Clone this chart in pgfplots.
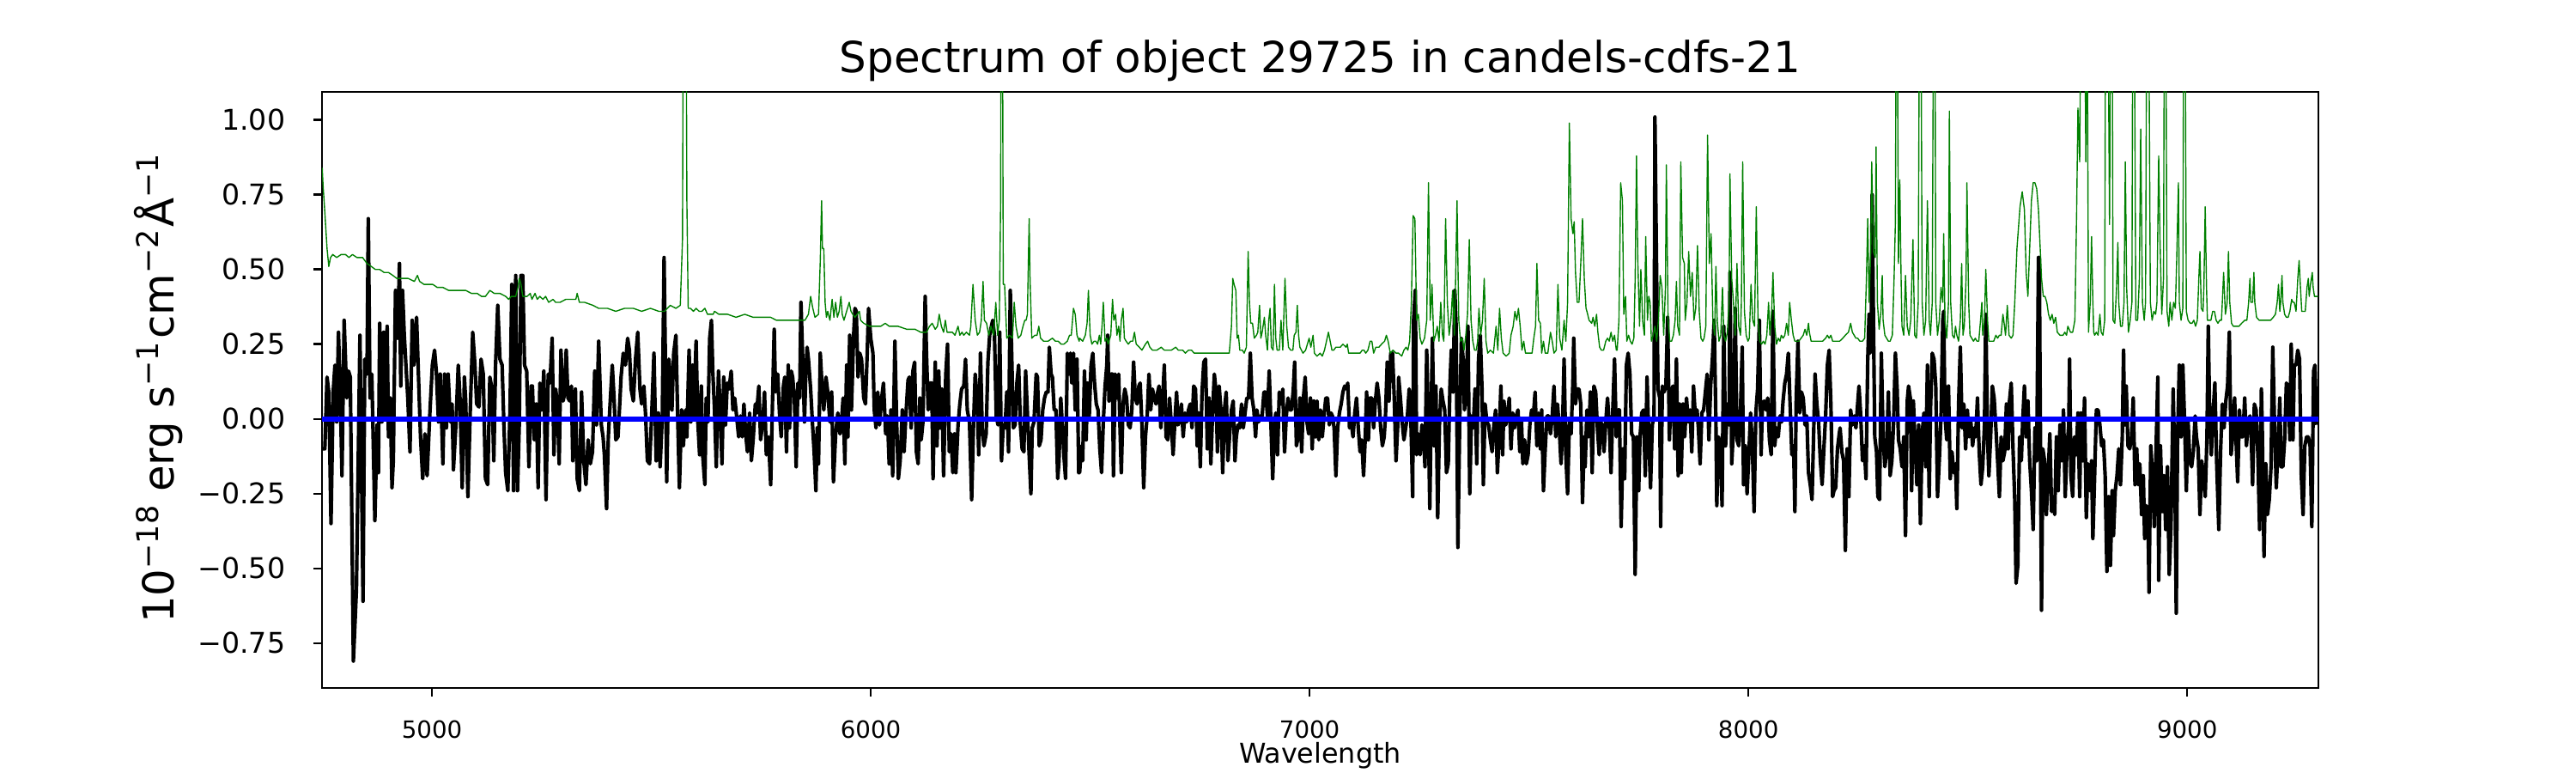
\documentclass[border=0pt]{standalone}
\usepackage{pgfplots}
\pgfplotsset{compat=1.18}
\usepackage{fontspec}
\setmainfont{DejaVu Sans}
\definecolor{mplgreen}{HTML}{008000}
\definecolor{mplblue}{HTML}{0000FF}
\newcommand\sups[1]{\raisebox{0.36em}{\fontsize{12.6}{12.6}\selectfont #1}}
\begin{document}
\begin{tikzpicture}
\path[use as bounding box] (-135bp,-35.64bp) rectangle (945bp,288.36bp);
\begin{axis}[
  at={(0,0)}, anchor=south west,
  scale only axis, width=837bp, height=249.84bp,
  xmin=4749.5, xmax=9299, ymin=-0.9, ymax=1.094,
  xtick={5000,6000,7000,8000,9000},
  xticklabels={5000,6000,7000,8000,9000},
  ytick={-0.75,-0.5,-0.25,0,0.25,0.5,0.75,1},
  yticklabels={−0.75,−0.50,−0.25,0.00,0.25,0.50,0.75,1.00},
  tick align=outside, xtick pos=bottom, ytick pos=left,
  major tick length=3.5bp,
  tick style={black, line width=0.9bp},
  axis line style={line width=0.9bp},
  xticklabel style={font=\fontsize{10}{10}\selectfont, anchor=base, inner sep=0pt, yshift=-17.7bp},
  yticklabel style={font=\fontsize{12}{12}\selectfont, anchor=east, inner sep=0pt, xshift=-11.7bp},
]
\addplot[black, line width=1.5bp, line join=round] coordinates {
(4751,-0.10)(4756,-0.10)(4761,0.14)(4765,0.09)(4770,-0.35)(4775,0.09)(4779,0.18)(4783,-0.01)(4787,0.29)(4791,0.10)(4795,-0.19)(4800,0.33)(4806,0.07)(4810,0.16)(4814,0.14)(4821,-0.81)(4828,-0.57)(4836,0.28)(4843,-0.61)(4847,0.20)(4852,0.15)(4855,0.67)(4859,0.07)(4863,0.15)(4870,-0.34)(4875,-0.02)(4878,-0.18)(4881,0.32)(4886,-0.01)(4890,0.29)(4894,0.01)(4898,0.31)(4901,-0.06)(4905,0.07)(4909,-0.23)(4912,-0.14)(4917,0.43)(4922,0.27)(4926,0.52)(4929,0.11)(4933,0.43)(4937,0.28)(4945,0.07)(4950,-0.11)(4955,0.33)(4959,0.18)(4965,0.34)(4969,0.16)(4974,-0.06)(4979,-0.20)(4984,-0.05)(4989,-0.19)(4995,0.01)(5001,0.18)(5006,0.23)(5010,0.16)(5015,-0.01)(5019,0.15)(5025,-0.15)(5029,0.15)(5033,-0.03)(5037,0.15)(5042,-0.01)(5046,0.05)(5049,-0.17)(5055,-0.01)(5060,0.18)(5064,0.07)(5069,-0.23)(5074,0.14)(5077,0.06)(5082,-0.26)(5087,0.01)(5093,0.29)(5098,0.18)(5102,0.05)(5107,0.04)(5112,0.20)(5117,0.15)(5122,-0.20)(5127,-0.22)(5132,0.14)(5137,0.10)(5141,-0.14)(5145,0.18)(5150,0.38)(5155,0.20)(5160,0.18)(5164,-0.02)(5168,-0.18)(5173,-0.24)(5178,0.03)(5182,0.45)(5186,-0.24)(5191,0.48)(5195,-0.24)(5199,-0.02)(5203,0.48)(5207,0.48)(5211,0.18)(5216,0.16)(5221,-0.16)(5226,0.11)(5229,0.11)(5233,-0.07)(5238,0.05)(5242,-0.23)(5246,0.12)(5251,0.03)(5255,0.16)(5260,-0.27)(5265,0.15)(5269,0.12)(5274,0.27)(5278,-0.12)(5282,0.10)(5286,0.05)(5290,-0.15)(5294,0.23)(5299,0.06)(5303,0.09)(5306,0.23)(5310,0.07)(5314,0.06)(5318,0.11)(5321,-0.14)
(5327,0.10)(5331,-0.20)(5336,-0.24)(5341,0.09)(5346,-0.14)(5351,-0.22)(5356,-0.07)(5361,-0.15)(5366,-0.11)(5371,0.16)(5375,-0.02)(5380,0.26)(5386,-0.02)(5390,-0.06)(5393,-0.12)(5398,-0.30)(5402,-0.06)(5406,0.05)(5411,0.18)(5415,0.07)(5419,-0.07)(5424,-0.06)(5428,0.05)(5431,0.14)(5436,0.22)(5441,0.18)(5446,0.27)(5450,0.23)(5454,0.10)(5459,0.06)(5464,0.20)(5469,0.29)(5474,0.10)(5478,0.05)(5483,0.11)(5487,0.01)(5491,-0.14)(5496,-0.15)(5501,0.02)(5506,0.22)(5511,-0.14)(5516,0.02)(5520,-0.16)(5525,0.01)(5529,0.54)(5532,0.20)(5535,-0.21)(5540,0.20)(5543,0.15)(5547,0.03)(5551,0.22)(5556,0.28)(5560,0.01)(5564,-0.23)(5569,0.03)(5573,-0.09)(5578,0.03)(5581,-0.06)(5586,0.23)(5590,-0.01)(5594,0.18)(5597,0.01)(5602,0.26)(5606,-0.01)(5610,-0.12)(5614,0.11)(5617,-0.12)(5622,-0.22)(5625,0.07)(5629,-0.01)(5633,0.27)(5637,0.33)(5640,0.16)(5644,0.03)(5648,-0.16)(5653,0.16)(5657,0.03)(5661,-0.15)(5665,0.14)(5669,-0.02)(5673,0.12)(5677,0.10)(5682,0.16)(5686,0.03)(5690,0.07)(5695,0.00)(5699,-0.06)(5703,0.01)(5707,-0.06)(5711,0.05)(5715,-0.05)(5719,-0.11)(5724,0.02)(5728,-0.14)(5732,-0.07)(5737,0.05)(5740,0.02)(5745,0.11)(5749,-0.07)(5754,-0.01)(5758,0.09)(5762,-0.12)(5767,-0.06)(5772,-0.22)(5776,0.05)(5780,0.30)(5783,0.09)(5788,0.15)(5792,0.02)(5796,-0.06)(5801,0.11)(5804,0.14)(5808,-0.11)(5812,0.18)(5815,-0.03)(5819,0.16)(5822,0.14)(5826,0.07)(5830,-0.16)(5834,0.12)(5838,0.07)(5841,0.39)(5845,0.20)(5849,-0.01)(5852,0.15)(5855,0.24)(5858,0.20)(5863,0.10)(5867,-0.01)(5871,-0.11)(5875,-0.24)(5878,-0.03)(5881,-0.15)(5885,0.22)(5889,0.11)(5893,0.03)(5897,0.12)
(5898,0.14)(5902,0.09)(5907,-0.01)(5911,0.09)(5915,-0.21)(5920,-0.05)(5925,0.02)(5930,-0.05)(5933,-0.02)(5937,0.07)(5941,-0.15)(5945,0.18)(5948,-0.06)(5952,0.28)(5956,0.03)(5961,0.28)(5964,0.37)(5967,0.36)(5971,0.14)(5975,0.22)(5979,0.20)(5984,0.07)(5988,0.05)(5992,0.22)(5995,0.37)(6000,0.27)(6005,0.22)(6008,0.03)(6012,-0.03)(6016,0.09)(6020,-0.02)(6025,0.07)(6029,0.12)(6034,-0.05)(6038,0.01)(6042,-0.15)(6046,0.03)(6050,-0.19)(6055,0.26)(6059,-0.01)(6063,-0.20)(6067,-0.14)(6072,0.03)(6076,-0.11)(6080,0.01)(6085,0.13)(6088,0.14)(6092,-0.03)(6096,0.16)(6100,0.19)(6104,-0.11)(6108,-0.15)(6112,0.07)(6115,-0.07)(6119,-0.01)(6124,0.41)(6127,0.22)(6131,0.03)(6135,0.12)(6139,0.12)(6142,-0.20)(6147,0.19)(6151,-0.09)(6155,0.16)(6158,-0.03)(6162,0.10)(6166,-0.19)(6171,0.15)(6175,0.25)(6179,-0.11)(6183,-0.05)(6187,-0.18)(6191,-0.05)(6194,-0.18)(6199,-0.02)(6203,0.05)(6207,0.10)(6212,0.11)(6216,0.20)(6220,0.03)(6225,-0.01)(6230,-0.27)(6234,-0.03)(6238,0.15)(6243,0.06)(6246,-0.12)(6250,0.22)(6254,-0.03)(6258,-0.09)(6263,-0.05)(6267,0.19)(6271,0.28)(6275,0.31)(6278,0.33)(6282,0.28)(6286,0.01)(6290,-0.02)(6294,0.29)(6298,-0.14)(6302,-0.02)(6306,-0.03)(6310,0.09)(6314,-0.11)(6318,0.43)(6321,0.23)(6325,-0.03)(6329,-0.02)(6333,0.12)(6337,0.18)(6341,-0.02)(6345,-0.10)(6349,-0.11)(6353,0.16)(6357,0.02)(6361,-0.12)(6365,-0.25)(6368,-0.03)(6372,-0.01)(6377,0.15)(6380,0.14)(6384,-0.09)(6388,-0.07)(6392,0.03)(6396,0.07)(6400,0.09)(6404,0.09)(6407,0.24)(6411,0.15)(6414,0.14)(6418,0.03)(6422,0.03)(6426,-0.20)(6429,-0.14)(6433,0.07)(6437,-0.03)(6440,-0.12)(6444,-0.20)(6448,0.22)(6452,0.15)(6455,0.22)(6458,0.12)(6462,0.22)(6466,0.03)(6470,0.20)(6474,-0.18)
(6476,-0.18)(6480,-0.09)(6483,-0.14)(6487,0.16)(6491,-0.07)(6494,0.12)(6498,0.01)(6502,0.18)(6506,0.22)(6510,0.12)(6514,0.05)(6518,0.03)(6522,-0.10)(6526,-0.18)(6530,-0.01)(6534,0.11)(6538,0.18)(6540,0.28)(6543,0.06)(6547,0.15)(6551,0.15)(6553,-0.19)(6557,0.15)(6561,0.07)(6565,0.15)(6568,-0.03)(6571,-0.18)(6575,0.05)(6579,0.10)(6583,0.07)(6587,-0.02)(6591,-0.03)(6595,0.03)(6599,0.19)(6603,0.07)(6607,0.05)(6611,0.11)(6614,0.12)(6618,-0.02)(6622,-0.23)(6626,-0.06)(6630,0.01)(6634,0.15)(6638,0.03)(6642,0.10)(6646,0.07)(6650,0.05)(6654,0.09)(6657,0.11)(6661,-0.03)(6665,0.06)(6669,0.18)(6673,-0.06)(6677,-0.07)(6681,0.07)(6685,-0.02)(6689,-0.12)(6693,-0.01)(6697,0.09)(6700,-0.02)(6704,-0.01)(6708,0.05)(6712,-0.06)(6716,0.02)(6720,-0.01)(6724,0.03)(6728,0.05)(6732,-0.03)(6736,0.11)(6740,0.10)(6744,-0.09)(6747,0.02)(6751,-0.16)(6755,0.09)(6759,0.19)(6763,0.20)(6767,-0.10)(6771,0.07)(6775,-0.15)(6779,0.02)(6783,0.15)(6787,0.09)(6790,-0.11)(6794,0.11)(6798,0.03)(6802,-0.18)(6806,0.03)(6810,0.09)(6814,-0.14)(6818,-0.05)(6822,0.03)(6826,0.06)(6830,-0.14)(6833,-0.06)(6837,-0.02)(6841,-0.03)(6845,0.05)(6849,-0.03)(6853,0.02)(6857,0.07)(6861,0.07)(6865,0.22)(6869,0.07)(6873,0.03)(6877,-0.06)(6880,0.03)(6884,-0.01)(6888,0.01)(6892,0.01)(6896,0.09)(6900,0.09)(6904,0.01)(6908,0.16)(6912,-0.02)(6916,-0.20)(6920,-0.02)(6923,0.02)(6927,-0.12)(6931,0.09)(6935,0.05)(6939,0.10)(6943,-0.11)(6947,0.01)(6951,0.07)(6955,0.03)(6959,0.03)(6963,0.10)(6966,0.19)(6970,-0.09)(6974,-0.06)(6978,0.07)(6982,-0.11)(6986,0.07)(6990,0.14)(6994,-0.01)(6998,-0.05)(7002,0.07)(7006,-0.10)(7010,0.06)(7013,-0.06)(7017,0.06)(7021,-0.07)(7025,0.03)(7029,-0.06)(7033,0.01)(7037,0.07)(7041,0.07)(7045,-0.02)(7049,0.02)
(7052,0.01)(7056,-0.03)(7060,-0.19)(7064,-0.03)(7068,0.02)(7072,0.05)(7076,0.09)(7080,0.11)(7084,0.10)(7087,0.12)(7091,-0.03)(7095,-0.01)(7099,-0.06)(7103,0.02)(7107,0.07)(7111,-0.03)(7115,-0.11)(7119,-0.07)(7123,-0.19)(7127,-0.06)(7130,0.09)(7134,-0.07)(7138,0.07)(7142,0.07)(7146,-0.03)(7150,0.06)(7154,0.12)(7158,0.07)(7162,-0.03)(7166,-0.09)(7170,-0.06)(7173,0.01)(7177,0.19)(7181,0.06)(7185,0.22)(7189,0.22)(7193,0.07)(7197,-0.14)(7201,-0.02)(7203,0.14)(7207,0.07)(7211,-0.01)(7215,-0.07)(7219,-0.03)(7223,0.01)(7227,0.10)(7231,-0.01)(7235,-0.26)(7237,0.33)(7241,0.43)(7244,-0.12)(7248,-0.05)(7252,-0.12)(7256,-0.02)(7260,-0.06)(7263,-0.16)(7267,0.23)(7271,-0.03)(7274,-0.30)(7277,0.02)(7280,0.27)(7284,-0.09)(7288,0.11)(7292,-0.33)(7296,-0.02)(7300,0.10)(7304,0.06)(7308,0.03)(7312,-0.18)(7316,-0.15)(7320,0.12)(7323,0.23)(7327,0.09)(7331,0.43)(7334,0.31)(7338,-0.43)(7342,-0.02)(7346,0.27)(7350,0.20)(7353,0.03)(7357,0.09)(7361,0.31)(7365,-0.25)(7369,0.01)(7373,-0.03)(7377,0.10)(7381,-0.15)(7385,0.20)(7389,0.28)(7393,0.10)(7396,-0.22)(7400,0.05)(7404,-0.01)(7408,-0.02)(7412,-0.07)(7416,-0.11)(7420,-0.02)(7424,0.03)(7428,-0.18)(7432,-0.06)(7436,0.11)(7440,-0.12)(7443,0.06)(7447,-0.02)(7451,0.01)(7455,0.07)(7459,-0.10)(7463,0.02)(7467,-0.03)(7471,0.01)(7475,0.03)(7479,-0.11)(7483,-0.01)(7486,-0.15)(7490,-0.07)(7494,-0.15)(7498,-0.12)(7502,-0.02)(7506,0.03)(7510,0.01)(7514,0.09)(7518,-0.09)(7522,0.02)(7526,-0.10)(7529,0.03)(7533,-0.24)(7537,-0.10)(7541,0.01)(7545,0.01)(7549,-0.05)(7553,0.01)(7557,0.11)(7561,-0.06)(7565,0.05)(7569,-0.03)(7573,-0.15)(7576,-0.06)(7580,0.20)(7584,-0.12)(7588,-0.25)(7592,-0.01)(7596,-0.05)(7600,0.12)(7602,0.27)(7606,0.05)(7610,0.10)(7614,0.10)(7618,0.05)(7622,-0.28)(7626,-0.06)
(7628,-0.16)(7632,0.03)(7636,-0.06)(7640,0.09)(7644,-0.18)(7648,0.11)(7652,0.09)(7656,-0.03)(7660,-0.12)(7663,-0.01)(7667,-0.02)(7671,-0.11)(7675,-0.01)(7679,0.07)(7683,-0.02)(7687,-0.18)(7691,0.03)(7695,0.20)(7699,-0.06)(7703,0.03)(7706,0.03)(7710,-0.36)(7714,-0.10)(7718,-0.20)(7722,0.18)(7726,0.22)(7730,0.15)(7734,-0.05)(7738,-0.06)(7742,-0.52)(7746,-0.06)(7750,-0.24)(7753,-0.06)(7757,0.02)(7761,0.03)(7765,-0.19)(7769,0.14)(7773,-0.06)(7777,-0.23)(7781,-0.02)(7785,0.01)(7787,1.01)(7791,0.47)(7794,0.10)(7798,0.07)(7800,-0.36)(7804,0.11)(7808,0.09)(7812,0.11)(7816,0.34)(7820,-0.07)(7824,0.09)(7828,0.11)(7832,-0.10)(7836,0.20)(7840,-0.19)(7843,0.05)(7847,-0.18)(7851,0.05)(7855,-0.06)(7859,0.07)(7863,-0.01)(7867,0.03)(7871,-0.11)(7875,0.11)(7879,0.01)(7883,0.03)(7886,-0.03)(7890,-0.15)(7894,0.02)(7898,0.03)(7902,0.09)(7906,0.15)(7910,-0.07)(7914,0.11)(7918,0.20)(7922,0.33)(7926,-0.01)(7928,-0.29)(7932,-0.06)(7936,-0.09)(7940,-0.29)(7944,0.31)(7948,-0.09)(7952,0.05)(7956,-0.02)(7958,0.49)(7962,-0.15)(7966,-0.03)(7970,0.37)(7974,-0.07)(7978,-0.09)(7982,0.03)(7986,0.24)(7989,-0.22)(7993,-0.09)(7997,-0.25)(8001,-0.12)(8005,0.02)(8009,-0.09)(8013,-0.31)(8017,0.02)(8021,0.10)(8025,0.33)(8029,-0.12)(8032,0.05)(8036,0.06)(8040,0.03)(8044,0.07)(8048,-0.07)(8052,-0.12)(8056,0.36)(8060,-0.09)(8064,-0.03)(8068,-0.06)(8072,0.01)(8076,-0.01)(8079,0.06)(8083,0.12)(8087,0.15)(8091,0.22)(8095,0.05)(8099,-0.12)(8103,-0.09)(8106,-0.31)(8109,0.07)(8113,0.26)(8117,0.02)(8121,0.09)(8125,0.07)(8129,-0.02)(8133,0.01)(8137,-0.18)(8141,-0.22)(8145,-0.27)(8149,-0.03)(8152,0.15)(8156,0.05)(8160,-0.01)(8164,-0.14)(8168,-0.22)(8172,-0.10)(8176,0.01)(8180,0.18)(8184,0.23)(8188,0.05)(8192,-0.26)(8195,-0.24)(8199,-0.23)(8203,-0.10)(8207,-0.05)
(8209,-0.03)(8213,-0.11)(8217,-0.14)(8221,-0.44)(8225,-0.10)(8229,-0.26)(8233,0.03)(8237,-0.02)(8241,0.01)(8245,-0.03)(8249,0.05)(8252,0.11)(8256,0.01)(8260,-0.14)(8264,-0.09)(8268,-0.20)(8272,0.20)(8275,0.35)(8277,0.22)(8280,0.27)(8282,0.75)(8285,0.33)(8288,-0.06)(8292,-0.11)(8295,-0.26)(8299,-0.27)(8303,0.22)(8307,-0.06)(8311,-0.16)(8315,-0.11)(8319,0.09)(8323,-0.19)(8327,-0.14)(8331,-0.01)(8335,0.22)(8339,0.10)(8342,-0.07)(8346,-0.10)(8350,-0.16)(8354,-0.06)(8358,-0.39)(8362,0.06)(8365,0.11)(8369,0.07)(8372,-0.24)(8376,0.06)(8380,-0.09)(8384,-0.22)(8388,-0.02)(8392,-0.35)(8396,-0.05)(8400,0.02)(8404,-0.16)(8408,0.18)(8412,-0.26)(8415,0.03)(8419,0.22)(8423,0.20)(8427,0.11)(8431,-0.26)(8435,-0.14)(8439,0.01)(8443,0.33)(8445,0.36)(8448,0.01)(8452,-0.07)(8456,0.11)(8460,-0.20)(8464,-0.11)(8468,-0.18)(8472,-0.15)(8475,-0.30)(8479,0.05)(8483,0.24)(8487,-0.03)(8491,0.05)(8495,-0.10)(8499,0.03)(8503,-0.06)(8507,-0.01)(8511,-0.09)(8515,-0.03)(8518,-0.06)(8522,0.07)(8526,-0.11)(8530,-0.22)(8534,-0.16)(8538,-0.02)(8541,0.35)(8545,-0.06)(8548,-0.19)(8552,-0.06)(8556,0.11)(8560,0.07)(8564,-0.03)(8568,-0.14)(8572,-0.26)(8576,-0.06)(8580,-0.14)(8584,-0.11)(8588,0.05)(8592,-0.10)(8595,0.06)(8599,0.12)(8603,-0.10)(8607,-0.27)(8610,-0.55)(8614,-0.49)(8618,-0.06)(8622,-0.14)(8625,-0.01)(8629,0.11)(8633,-0.06)(8637,0.06)(8641,-0.14)(8645,-0.24)(8649,-0.37)(8653,-0.03)(8657,-0.14)(8661,0.54)(8663,0.54)(8666,-0.19)(8668,-0.64)(8671,-0.10)(8675,-0.14)(8679,-0.32)(8683,-0.19)(8687,-0.05)(8691,-0.31)(8695,-0.26)(8698,-0.32)(8702,-0.06)(8706,-0.24)(8710,-0.02)(8714,-0.14)(8718,0.03)(8722,-0.26)(8726,-0.10)(8730,-0.02)(8732,0.20)(8735,-0.19)(8739,-0.26)(8743,-0.06)(8747,-0.12)(8751,0.02)(8755,-0.26)(8758,0.02)(8762,-0.14)(8766,0.07)(8770,-0.33)(8774,-0.15)(8778,-0.24)(8782,-0.14)
(8785,-0.40)(8789,-0.19)(8793,0.03)(8797,0.03)(8801,-0.02)(8805,-0.09)(8809,-0.07)(8813,-0.19)(8817,-0.51)(8821,-0.26)(8825,-0.49)(8829,-0.24)(8832,-0.39)(8836,-0.24)(8840,-0.19)(8844,-0.10)(8848,-0.22)(8852,-0.06)(8855,0.23)(8857,-0.02)(8861,0.11)(8865,-0.09)(8869,-0.10)(8873,-0.06)(8877,0.07)(8881,-0.22)(8885,-0.10)(8888,-0.22)(8892,-0.15)(8896,-0.32)(8900,-0.19)(8903,-0.40)(8907,-0.29)(8911,-0.36)(8913,-0.58)(8917,-0.09)(8921,-0.19)(8925,-0.36)(8929,-0.10)(8933,0.14)(8935,-0.54)(8939,-0.09)(8943,-0.31)(8947,-0.19)(8951,-0.37)(8955,-0.16)(8959,-0.52)(8963,-0.36)(8968,0.10)(8972,-0.19)(8975,-0.65)(8978,-0.06)(8982,0.18)(8986,-0.06)(8990,0.18)(8994,-0.01)(8998,-0.24)(9002,-0.01)(9006,-0.14)(9010,-0.16)(9014,-0.11)(9018,0.01)(9021,-0.06)(9025,-0.10)(9029,-0.32)(9033,-0.14)(9037,-0.19)(9041,-0.26)(9045,-0.06)(9048,0.31)(9051,0.03)(9055,-0.12)(9059,0.02)(9063,0.12)(9067,-0.14)(9072,-0.37)(9076,-0.11)(9080,0.05)(9084,-0.03)(9088,0.06)(9092,0.11)(9096,0.29)(9100,-0.12)(9104,-0.05)(9108,0.07)(9111,-0.06)(9115,-0.21)(9119,0.03)(9123,-0.06)(9127,-0.06)(9131,0.07)(9135,-0.09)(9139,-0.01)(9143,0.01)(9145,-0.01)(9149,-0.22)(9153,0.05)(9157,0.03)(9161,-0.12)(9165,-0.37)(9169,0.10)(9171,-0.03)(9175,-0.46)(9179,-0.15)(9183,-0.32)(9187,-0.27)(9191,-0.16)(9195,0.24)(9199,-0.02)(9203,-0.23)(9207,-0.09)(9211,0.07)(9214,-0.16)(9218,-0.16)(9222,-0.07)(9226,0.12)(9230,0.11)(9234,-0.07)(9237,0.25)(9241,-0.07)(9244,0.18)(9248,0.18)(9252,0.23)(9256,0.20)(9260,-0.19)(9264,-0.32)(9268,-0.09)(9272,-0.06)(9276,-0.06)(9280,-0.09)(9284,-0.36)(9288,0.16)(9291,0.18)(9295,-0.02)
};
\addplot[mplgreen, line width=0.5bp, line join=round] coordinates {
(4750,0.84)(4752,0.78)(4756,0.69)(4761,0.57)(4765,0.51)(4769,0.54)(4774,0.55)(4783,0.54)(4793,0.55)(4803,0.55)(4811,0.54)(4819,0.55)(4829,0.54)(4842,0.54)(4852,0.52)(4862,0.51)(4871,0.50)(4881,0.50)(4891,0.49)(4901,0.49)(4911,0.48)(4920,0.47)(4933,0.47)(4946,0.47)(4960,0.46)(4967,0.48)(4972,0.46)(4982,0.45)(4992,0.45)(5002,0.45)(5012,0.44)(5025,0.44)(5038,0.43)(5051,0.43)(5064,0.43)(5077,0.43)(5090,0.42)(5103,0.42)(5113,0.41)(5122,0.41)(5132,0.43)(5142,0.42)(5155,0.42)(5168,0.41)(5175,0.40)(5181,0.41)(5191,0.41)(5196,0.44)(5199,0.47)(5203,0.45)(5207,0.41)(5217,0.41)(5224,0.42)(5228,0.40)(5235,0.42)(5240,0.40)(5246,0.41)(5253,0.40)(5259,0.41)(5266,0.39)(5276,0.40)(5282,0.39)(5292,0.39)(5305,0.40)(5318,0.40)
(5328,0.40)(5331,0.42)(5336,0.39)(5348,0.39)(5367,0.38)(5380,0.37)(5400,0.37)(5419,0.36)(5439,0.37)(5459,0.37)(5478,0.36)(5498,0.37)(5517,0.36)(5530,0.36)(5543,0.38)(5556,0.37)(5566,0.38)(5571,0.60)(5573,1.5)(5579,1.5)(5581,0.73)(5584,0.37)(5589,0.37)(5596,0.36)(5602,0.37)(5609,0.36)(5615,0.36)(5622,0.37)(5628,0.35)(5641,0.35)(5644,0.36)(5654,0.35)(5674,0.35)(5693,0.34)(5713,0.35)(5732,0.34)(5752,0.34)(5772,0.34)(5785,0.33)(5798,0.33)(5811,0.33)(5824,0.33)(5837,0.33)(5850,0.33)(5858,0.35)(5863,0.41)(5868,0.37)(5873,0.34)(5881,0.35)(5885,0.53)(5888,0.73)(5890,0.57)(5893,0.57)(5896,0.39)(5899,0.34)
(5902,0.36)(5907,0.33)(5912,0.40)(5916,0.34)(5920,0.39)(5924,0.34)(5928,0.36)(5932,0.41)(5935,0.35)(5939,0.33)(5945,0.36)(5951,0.39)(5955,0.36)(5959,0.35)(5964,0.34)(5974,0.36)(5977,0.33)(5984,0.32)(5997,0.31)(6006,0.31)(6016,0.31)(6023,0.31)(6033,0.32)(6042,0.31)(6062,0.31)(6082,0.30)(6101,0.30)(6114,0.29)(6127,0.29)(6134,0.31)(6140,0.32)(6147,0.30)(6152,0.31)(6156,0.35)(6161,0.31)(6166,0.29)(6170,0.33)(6174,0.29)(6179,0.29)(6186,0.29)(6192,0.28)(6199,0.31)(6203,0.28)(6208,0.29)(6212,0.28)(6218,0.29)(6225,0.28)(6228,0.31)(6233,0.45)(6238,0.33)(6243,0.28)(6248,0.29)(6252,0.33)(6256,0.46)(6259,0.33)(6264,0.32)(6269,0.28)(6274,0.31)(6280,0.28)(6285,0.39)(6289,0.28)(6293,0.33)(6296,0.73)(6297,1.5)(6300,1.5)(6302,0.45)(6305,0.45)(6310,0.27)(6316,0.28)(6323,0.27)(6327,0.39)(6331,0.31)(6336,0.27)(6342,0.28)(6347,0.31)(6351,0.33)(6354,0.33)(6357,0.35)(6361,0.67)(6363,0.47)(6367,0.27)(6374,0.28)(6379,0.28)(6383,0.31)(6387,0.27)(6394,0.26)(6404,0.26)(6414,0.27)(6421,0.26)(6427,0.26)(6434,0.25)(6440,0.25)(6448,0.26)(6453,0.28)(6457,0.28)(6462,0.37)(6466,0.35)(6470,0.28)(6475,0.26)
(6476,0.27)(6483,0.26)(6489,0.28)(6493,0.32)(6496,0.43)(6500,0.28)(6504,0.25)(6509,0.26)(6513,0.26)(6517,0.25)(6521,0.28)(6524,0.25)(6527,0.31)(6530,0.39)(6534,0.26)(6538,0.27)(6541,0.25)(6547,0.28)(6551,0.40)(6554,0.33)(6558,0.35)(6561,0.28)(6565,0.31)(6568,0.26)(6571,0.33)(6575,0.37)(6578,0.27)(6582,0.26)(6587,0.25)(6592,0.26)(6597,0.26)(6601,0.29)(6605,0.25)(6612,0.24)(6618,0.23)(6626,0.25)(6631,0.26)(6636,0.24)(6642,0.23)(6652,0.23)(6662,0.24)(6669,0.23)(6678,0.23)(6685,0.23)(6695,0.24)(6701,0.23)(6711,0.23)(6717,0.22)(6724,0.23)(6731,0.23)(6737,0.22)(6747,0.22)(6757,0.22)(6770,0.22)(6783,0.22)(6796,0.22)(6809,0.22)(6817,0.22)(6822,0.31)(6825,0.47)(6828,0.45)(6832,0.43)(6835,0.27)(6838,0.28)(6841,0.23)(6847,0.23)(6851,0.22)(6856,0.24)(6860,0.56)(6863,0.39)(6866,0.32)(6870,0.32)(6874,0.27)(6879,0.28)(6882,0.29)(6886,0.38)(6889,0.27)(6892,0.29)(6897,0.34)(6900,0.28)(6904,0.23)(6907,0.33)(6910,0.37)(6913,0.24)(6917,0.23)(6920,0.45)(6923,0.27)(6926,0.23)(6931,0.23)(6935,0.33)(6939,0.23)(6944,0.47)(6948,0.31)(6952,0.24)(6957,0.23)(6962,0.23)(6965,0.28)(6969,0.29)(6972,0.38)(6975,0.28)(6978,0.24)(6985,0.22)(6991,0.23)(6997,0.26)(6999,0.27)(7003,0.24)(7008,0.28)(7011,0.22)(7017,0.21)(7024,0.22)(7029,0.21)(7034,0.23)(7040,0.27)(7043,0.29)(7047,0.26)(7051,0.23)(7055,0.23)
(7060,0.24)(7065,0.24)(7070,0.24)(7076,0.25)(7083,0.24)(7086,0.25)(7089,0.22)(7099,0.22)(7109,0.22)(7115,0.22)(7120,0.23)(7124,0.23)(7128,0.22)(7133,0.23)(7138,0.26)(7142,0.26)(7146,0.22)(7151,0.24)(7158,0.24)(7164,0.25)(7171,0.26)(7175,0.28)(7179,0.26)(7184,0.22)(7190,0.23)(7197,0.22)(7203,0.22)(7210,0.21)(7215,0.23)(7220,0.24)(7224,0.23)(7228,0.26)(7232,0.39)(7236,0.68)(7240,0.67)(7244,0.33)(7248,0.35)(7252,0.27)(7256,0.25)(7262,0.27)(7267,0.33)(7271,0.79)(7275,0.33)(7279,0.45)(7283,0.26)(7287,0.28)(7291,0.31)(7295,0.26)(7299,0.39)(7303,0.28)(7306,0.26)(7310,0.67)(7314,0.39)(7318,0.28)(7322,0.33)(7326,0.43)(7330,0.28)(7333,0.48)(7336,0.73)(7340,0.33)(7344,0.26)(7348,0.27)(7352,0.23)(7356,0.28)(7360,0.35)(7364,0.60)(7368,0.33)(7372,0.26)(7376,0.23)(7380,0.23)(7383,0.26)(7386,0.37)(7390,0.28)(7394,0.33)(7398,0.47)(7402,0.26)(7406,0.22)(7412,0.23)(7419,0.22)(7423,0.28)(7425,0.31)(7429,0.23)(7433,0.37)(7437,0.27)(7441,0.22)(7448,0.21)(7455,0.22)(7459,0.28)(7464,0.31)(7468,0.36)(7472,0.33)(7476,0.37)(7480,0.31)(7484,0.23)(7488,0.26)(7492,0.22)(7500,0.22)(7507,0.22)(7511,0.27)(7515,0.31)(7518,0.52)(7522,0.33)(7526,0.32)(7529,0.22)(7533,0.26)(7537,0.22)(7543,0.22)(7549,0.29)(7553,0.26)(7557,0.22)(7562,0.23)(7566,0.45)(7570,0.27)(7575,0.23)(7580,0.33)(7584,0.26)(7588,0.39)(7592,0.99)(7596,0.67)(7600,0.62)(7603,0.66)(7606,0.49)(7610,0.39)(7614,0.39)(7618,0.52)(7622,0.67)(7626,0.47)(7630,0.37)
(7632,0.36)(7637,0.33)(7643,0.32)(7646,0.34)(7650,0.31)(7654,0.35)(7657,0.29)(7661,0.24)(7665,0.23)(7670,0.23)(7675,0.26)(7679,0.27)(7683,0.26)(7687,0.29)(7691,0.26)(7695,0.28)(7699,0.23)(7701,0.23)(7705,0.33)(7709,0.79)(7713,0.73)(7716,0.35)(7720,0.41)(7723,0.26)(7727,0.28)(7731,0.26)(7735,0.25)(7739,0.27)(7742,0.47)(7745,0.88)(7748,0.53)(7752,0.31)(7755,0.50)(7759,0.33)(7763,0.28)(7766,0.61)(7770,0.33)(7773,0.41)(7776,0.39)(7779,0.26)(7783,0.28)(7787,0.31)(7791,0.26)(7795,0.33)(7799,0.48)(7803,0.44)(7807,0.28)(7811,0.44)(7813,0.85)(7817,0.33)(7821,0.26)(7825,0.26)(7829,0.28)(7833,0.33)(7836,0.46)(7839,0.31)(7843,0.28)(7846,0.86)(7850,0.54)(7854,0.52)(7856,0.33)(7860,0.39)(7864,0.56)(7868,0.41)(7872,0.49)(7876,0.33)(7880,0.37)(7884,0.58)(7888,0.36)(7892,0.27)(7896,0.26)(7899,0.27)(7903,0.31)(7907,0.95)(7911,0.52)(7915,0.62)(7919,0.33)(7923,0.28)(7926,0.51)(7929,0.33)(7933,0.26)(7937,0.28)(7941,0.44)(7944,0.28)(7948,0.26)(7952,0.29)(7956,0.39)(7958,0.82)(7962,0.47)(7966,0.39)(7970,0.28)(7974,0.52)(7978,0.31)(7982,0.28)(7984,0.39)(7987,0.86)(7991,0.36)(7995,0.28)(7999,0.26)(8002,0.27)(8006,0.45)(8010,0.33)(8014,0.31)(8018,0.71)(8022,0.33)(8026,0.26)(8030,0.25)(8034,0.26)(8038,0.25)(8042,0.28)(8046,0.39)(8049,0.28)(8053,0.36)(8056,0.49)(8060,0.31)(8064,0.25)(8068,0.27)(8072,0.26)(8075,0.28)(8079,0.27)(8083,0.28)(8087,0.32)(8091,0.28)(8094,0.39)(8098,0.33)(8102,0.28)(8106,0.26)(8110,0.26)(8115,0.26)(8120,0.27)(8125,0.28)(8129,0.30)(8133,0.28)(8137,0.32)(8139,0.29)(8143,0.26)(8149,0.26)(8154,0.26)(8159,0.26)(8164,0.26)(8169,0.26)(8176,0.27)(8180,0.28)(8184,0.27)(8188,0.28)(8192,0.26)(8198,0.26)(8205,0.26)
(8208,0.26)(8215,0.27)(8221,0.28)(8228,0.29)(8233,0.32)(8237,0.29)(8241,0.28)(8245,0.27)(8249,0.27)(8254,0.26)(8260,0.26)(8265,0.27)(8269,0.47)(8272,0.67)(8275,0.39)(8279,0.57)(8281,0.86)(8285,0.56)(8289,0.54)(8291,0.91)(8294,0.39)(8298,0.30)(8302,0.36)(8305,0.48)(8307,0.33)(8311,0.28)(8315,0.27)(8319,0.26)(8323,0.26)(8328,0.28)(8332,0.47)(8335,0.66)(8337,1.5)(8339,1.5)(8342,0.52)(8345,0.80)(8348,0.47)(8350,0.31)(8354,0.28)(8358,0.48)(8362,0.31)(8366,0.28)(8370,0.33)(8375,0.60)(8379,0.28)(8383,0.27)(8387,0.39)(8390,1.5)(8393,1.5)(8396,0.39)(8400,0.28)(8404,0.33)(8408,0.73)(8412,0.33)(8415,0.28)(8419,0.39)(8422,1.5)(8425,1.5)(8427,0.39)(8431,0.28)(8435,0.33)(8439,0.44)(8443,0.39)(8445,0.62)(8448,0.33)(8452,0.27)(8456,0.39)(8458,1.03)(8461,0.39)(8465,0.28)(8469,0.27)(8472,0.31)(8475,0.28)(8479,0.26)(8483,0.33)(8486,0.52)(8489,0.28)(8492,0.31)(8496,0.47)(8498,0.79)(8502,0.39)(8505,0.28)(8509,0.27)(8513,0.26)(8517,0.27)(8521,0.26)(8525,0.26)(8529,0.33)(8532,0.39)(8534,0.28)(8538,0.33)(8541,0.50)(8545,0.33)(8548,0.26)(8554,0.26)(8559,0.26)(8564,0.28)(8568,0.27)(8572,0.28)(8576,0.28)(8580,0.35)(8582,0.33)(8586,0.28)(8590,0.38)(8594,0.28)(8599,0.27)(8603,0.28)(8607,0.39)(8612,0.57)(8619,0.71)(8624,0.76)(8629,0.70)(8633,0.49)(8637,0.41)(8641,0.57)(8645,0.73)(8649,0.79)(8653,0.79)(8657,0.77)(8661,0.70)(8665,0.57)(8668,0.47)(8672,0.41)(8676,0.41)(8680,0.39)(8684,0.35)(8688,0.33)(8692,0.35)(8696,0.32)(8700,0.34)(8704,0.29)(8710,0.28)(8717,0.28)(8721,0.29)(8725,0.28)(8728,0.31)(8734,0.29)(8739,0.29)(8744,0.33)(8748,0.69)(8751,1.04)(8755,0.86)(8758,1.5)(8766,1.5)(8769,0.86)(8772,1.5)(8775,0.29)(8779,0.39)(8782,0.61)(8785,0.39)(8787,0.29)
(8789,0.28)(8793,0.29)(8797,0.28)(8801,0.35)(8804,0.29)(8808,0.28)(8812,0.33)(8814,1.5)(8819,1.5)(8823,0.65)(8826,1.5)(8829,1.5)(8831,0.33)(8835,0.32)(8839,0.44)(8842,0.59)(8844,0.39)(8848,0.31)(8852,0.31)(8856,0.39)(8859,0.86)(8862,0.44)(8866,0.29)(8870,0.33)(8874,0.39)(8876,1.5)(8879,1.5)(8883,0.33)(8887,0.33)(8891,0.47)(8894,0.97)(8898,0.39)(8902,0.33)(8905,0.39)(8908,1.5)(8912,1.5)(8916,0.39)(8920,0.33)(8924,0.36)(8928,0.35)(8931,0.39)(8935,0.88)(8938,0.60)(8942,0.35)(8946,0.47)(8948,1.5)(8951,1.5)(8954,0.36)(8958,0.31)(8961,0.39)(8965,0.33)(8969,0.39)(8973,0.37)(8976,0.53)(8980,0.79)(8982,0.39)(8986,0.33)(8990,0.37)(8992,1.5)(8995,1.5)(8998,0.36)(9002,0.33)(9007,0.32)(9011,0.32)(9015,0.33)(9019,0.31)(9023,0.33)(9027,0.49)(9029,0.56)(9032,0.37)(9036,0.36)(9038,0.44)(9041,0.71)(9044,0.44)(9046,0.33)(9050,0.33)(9054,0.33)(9058,0.36)(9062,0.36)(9066,0.33)(9070,0.32)(9074,0.33)(9078,0.33)(9080,0.39)(9083,0.49)(9087,0.35)(9091,0.39)(9094,0.56)(9097,0.39)(9101,0.32)(9105,0.31)(9111,0.31)(9118,0.31)(9124,0.32)(9131,0.33)(9136,0.33)(9140,0.39)(9143,0.47)(9145,0.39)(9149,0.39)(9152,0.49)(9154,0.39)(9158,0.34)(9164,0.33)(9170,0.33)(9177,0.33)(9183,0.33)(9190,0.33)(9196,0.34)(9201,0.35)(9205,0.39)(9208,0.45)(9211,0.36)(9213,0.39)(9216,0.48)(9218,0.39)(9222,0.35)(9226,0.34)(9230,0.34)(9234,0.36)(9238,0.40)(9241,0.39)(9244,0.39)(9248,0.36)(9252,0.47)(9255,0.53)(9257,0.47)(9261,0.36)(9265,0.36)(9269,0.36)(9273,0.44)(9276,0.47)(9278,0.41)(9281,0.45)(9285,0.49)(9287,0.44)(9290,0.41)(9294,0.41)(9298,0.41)
};
\addplot[mplblue, line width=2.2bp] coordinates {(4749.5,0) (9299,0)};
\end{axis}
\node[anchor=base, inner sep=0pt, font=\fontsize{18}{18}\selectfont] at (418.5bp,257.98bp) {Spectrum of object 29725 in candels-cdfs-21};
\node[anchor=base, inner sep=0pt, font=\fontsize{11.5}{11.5}\selectfont] at (418.5bp,-31.6bp) {Wavelength};
\node[anchor=base, inner sep=0pt, rotate=90, font=\fontsize{18}{18}\selectfont] at (-62bp,125.5bp) {10\sups{−18} erg s\sups{−1}\hspace{0.06em}cm\sups{−2}\hspace{0.06em}Å\sups{−1}};
\end{tikzpicture}
\end{document}
